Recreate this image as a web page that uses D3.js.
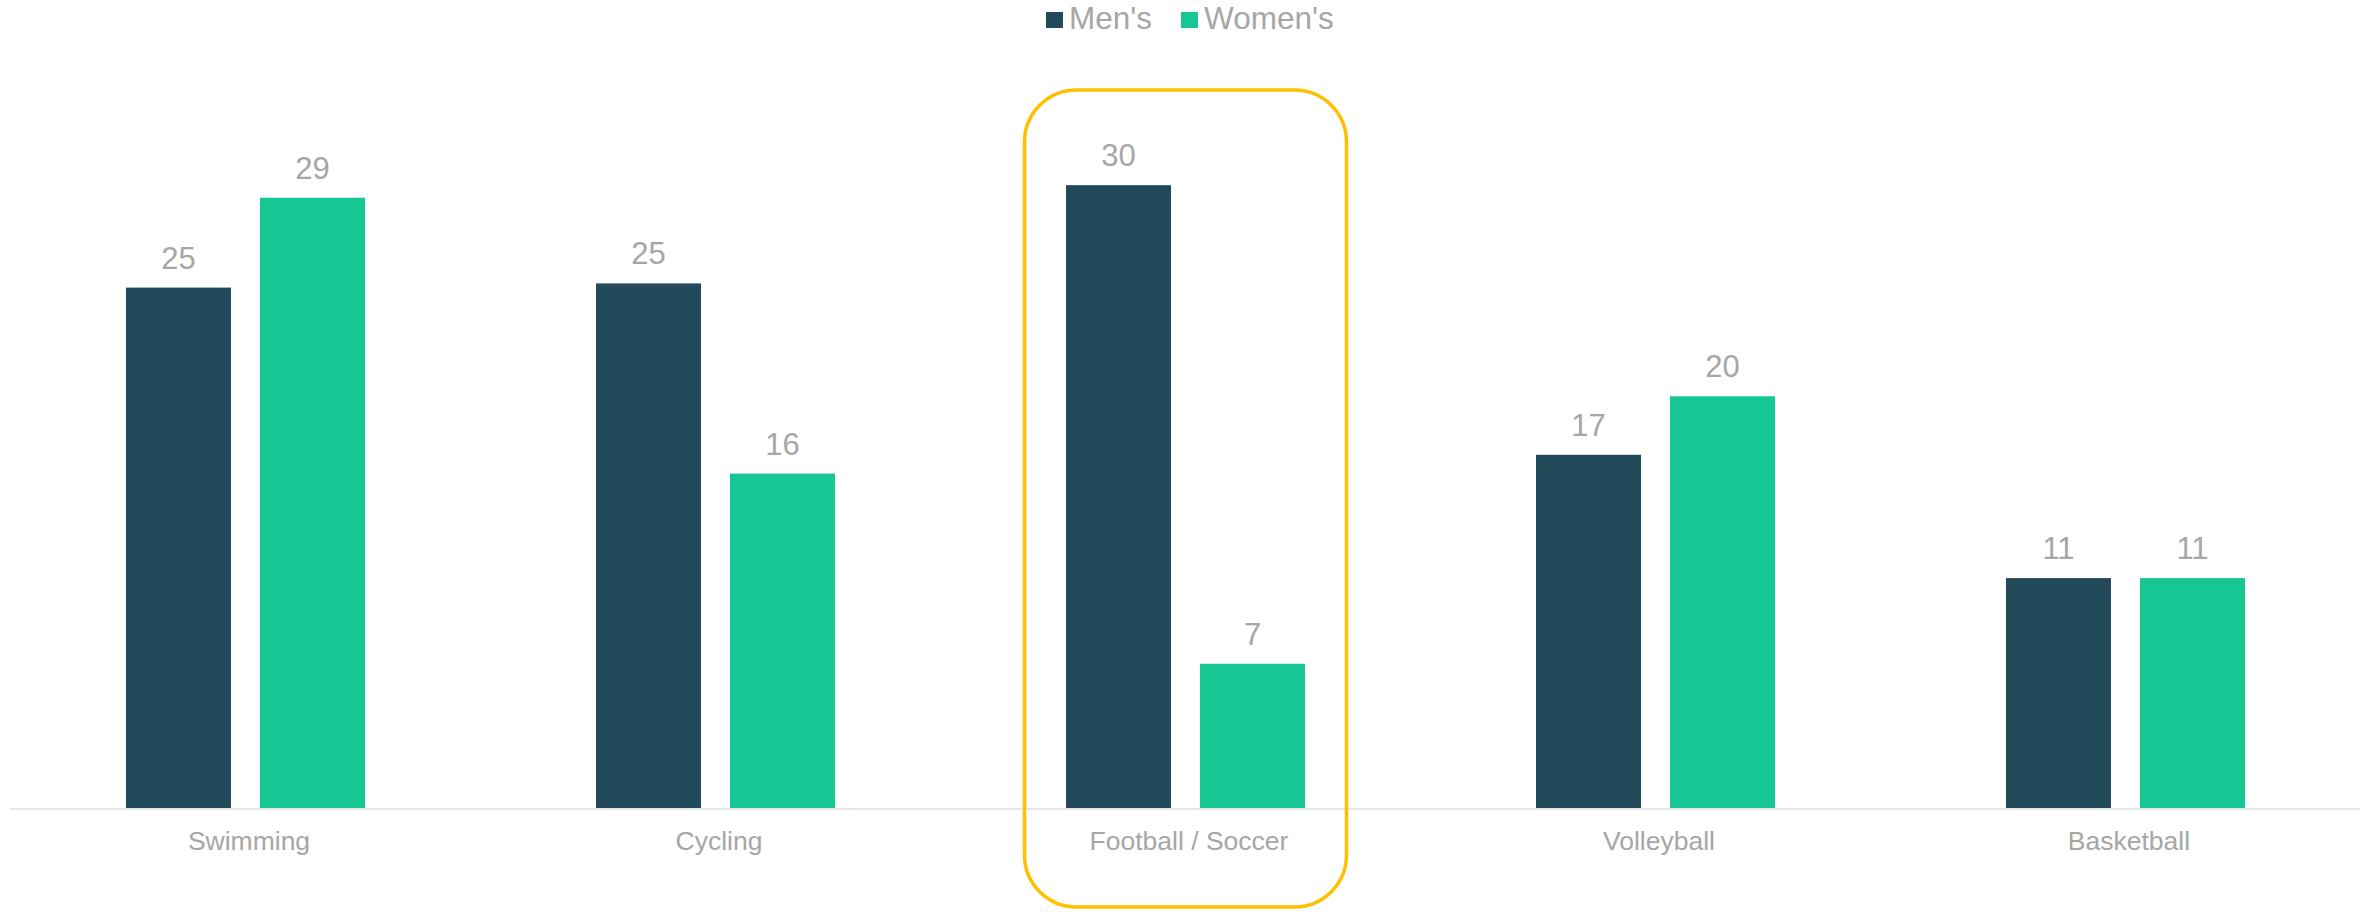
<!DOCTYPE html>
<html>
<head>
<meta charset="utf-8">
<script src="https://cdn.jsdelivr.net/npm/d3@7"></script>
<style>
  html, body { margin: 0; padding: 0; background: #ffffff; }
  svg { display: block; font-family: "Liberation Sans", Arial, sans-serif; }
</style>
</head>
<body>
<svg id="chart" width="2371" height="912"></svg>
<script>
const categories = ["Swimming", "Cycling", "Football / Soccer", "Volleyball", "Basketball"];
const seriesNames = ["Men's", "Women's"];
const mensValues = [24.9, 25.1, 29.8, 16.9, 11.0];
const womensValues = [29.2, 16.0, 6.9, 19.7, 11.0];
const highlightCategory = "Football / Soccer";

const colors = { "Men's": "#234A5B", "Women's": "#16C794" };
const textColor = "#A6A6A6";

const svg = d3.select("#chart");
const baseline = 808;

const x = d3.scaleBand().domain(categories).range([10.5, 2360.5]).padding(0);
const xSub = d3.scaleBand().domain(seriesNames).range([115.5, 354.5]).paddingInner(29 / 134).paddingOuter(0);
const y = d3.scaleLinear().domain([0, 35]).range([baseline, baseline - 35 * 20.9]);

const data = categories.map((c, i) => ({
  category: c,
  values: [
    { series: "Men's", value: mensValues[i] },
    { series: "Women's", value: womensValues[i] }
  ]
}));

// Axis line
svg.append("line")
  .attr("x1", 11).attr("x2", 2360)
  .attr("y1", baseline + 1).attr("y2", baseline + 1)
  .attr("stroke", "#E6E6E6").attr("stroke-width", 2);

// Bars
const groups = svg.selectAll("g.cat").data(data).join("g")
  .attr("class", "cat")
  .attr("transform", d => `translate(${x(d.category)},0)`);

groups.selectAll("rect").data(d => d.values).join("rect")
  .attr("x", d => xSub(d.series))
  .attr("width", xSub.bandwidth())
  .attr("y", d => y(d.value))
  .attr("height", d => y(0) - y(d.value))
  .attr("fill", d => colors[d.series]);

// Value labels
groups.selectAll("text.val").data(d => d.values).join("text")
  .attr("class", "val")
  .attr("x", d => xSub(d.series) + xSub.bandwidth() / 2)
  .attr("y", d => y(d.value) - 19)
  .attr("text-anchor", "middle")
  .attr("fill", textColor)
  .style("font-size", "31px")
  .text(d => d3.format(".0f")(d.value));

// Category labels
svg.selectAll("text.cat-label").data(categories).join("text")
  .attr("class", "cat-label")
  .attr("x", d => x(d) + x.bandwidth() / 2 + 3.5)
  .attr("y", 850)
  .attr("text-anchor", "middle")
  .attr("fill", textColor)
  .style("font-size", "26.5px")
  .text(d => d);

// Highlight rounded box
const hx = x(highlightCategory) + x.bandwidth() / 2;
svg.append("rect")
  .attr("x", hx - 161)
  .attr("y", 90)
  .attr("width", 322)
  .attr("height", 817)
  .attr("rx", 52).attr("ry", 52)
  .attr("fill", "none")
  .attr("stroke", "#FFC000")
  .attr("stroke-width", 3.5);

// Legend
const legendItems = [
  { name: "Men's", sx: 1046, tx: 1069 },
  { name: "Women's", sx: 1181, tx: 1204 }
];
const legend = svg.append("g").attr("class", "legend");
legendItems.forEach(item => {
  legend.append("rect")
    .attr("x", item.sx).attr("y", 12)
    .attr("width", 17).attr("height", 16)
    .attr("fill", colors[item.name]);
  legend.append("text")
    .attr("x", item.tx).attr("y", 28.5)
    .attr("fill", textColor)
    .style("font-size", "31.5px")
    .text(item.name);
});
</script>
</body>
</html>
